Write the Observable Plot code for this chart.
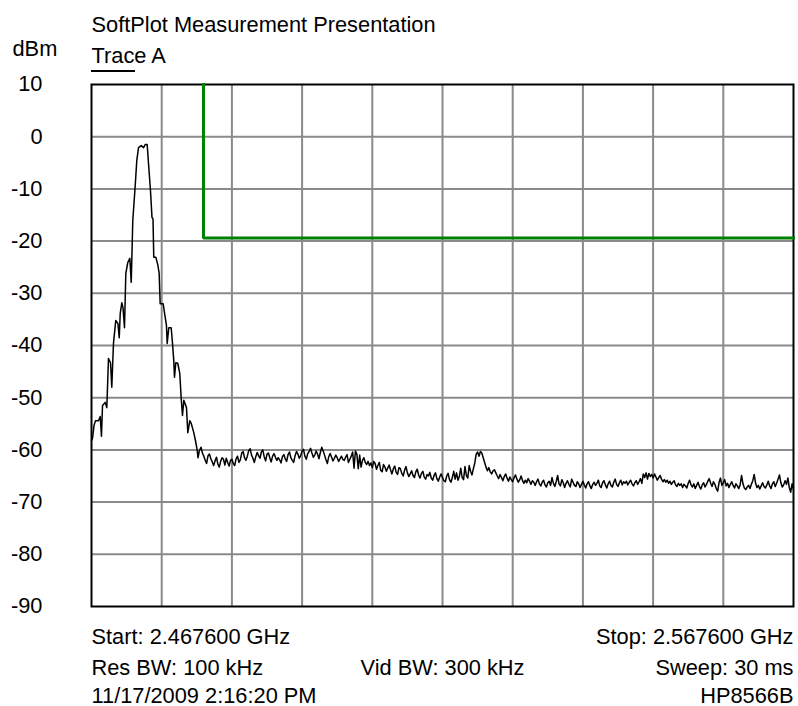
<!DOCTYPE html>
<html>
<head>
<meta charset="utf-8">
<script src="https://cdn.jsdelivr.net/npm/d3@7"></script>
<script src="https://cdn.jsdelivr.net/npm/@observablehq/plot@0.6"></script>
<style>
  html, body { margin: 0; padding: 0; background: #fff; }
  #chart { width: 798px; height: 706px; }
</style>
</head>
<body>
<div id="chart"></div>
<script>
// ---- data ----
const titleText = "SoftPlot Measurement Presentation";
const traceName = "Trace A";
const yUnit = "dBm";
const spanMHz = 100;
const yTicks = [10, 0, -10, -20, -30, -40, -50, -60, -70, -80, -90];
const xGridMHz = [10, 20, 30, 40, 50, 60, 70, 80, 90];

// trace near the carrier (MHz offset from start, dBm)
const peakMHz = [0.0, 0.14, 0.36, 0.57, 1.0, 1.24, 1.42, 1.57, 1.95, 2.18, 2.42, 2.71, 2.89, 3.13, 3.46, 3.77, 3.95, 4.09, 4.32, 4.49, 4.70, 4.89, 5.17, 5.46, 5.66, 5.88, 6.23, 6.45, 6.70, 7.08, 7.41, 7.65, 7.93, 8.12, 8.40, 8.62, 8.76, 8.87, 9.16, 9.44, 9.64, 9.78, 10.21, 10.44, 10.68, 10.78, 11.01, 11.35, 11.54, 11.72, 11.82, 12.01, 12.29, 12.58, 12.78, 12.96, 13.15, 13.53, 13.72, 14.00, 14.20, 14.57, 14.81, 15.06, 15.17, 15.38, 15.60, 15.80];
const peakDbm = [-58.2, -57.8, -55.3, -54.4, -54.4, -53.6, -57.4, -51.5, -50.9, -51.9, -42.5, -43.3, -48.0, -39.6, -35.2, -35.8, -38.5, -33.9, -31.8, -32.8, -36.6, -26.2, -24.1, -23.3, -27.9, -16.1, -9.3, -4.6, -2.1, -1.7, -2.1, -1.5, -1.5, -5.1, -10.3, -15.5, -15.7, -23.1, -23.1, -24.5, -26.2, -32.0, -32.0, -34.1, -36.2, -39.6, -36.6, -36.6, -39.6, -42.9, -46.1, -43.3, -43.4, -45.4, -50.2, -53.4, -50.5, -51.9, -56.7, -54.4, -54.9, -56.7, -58.2, -60.1, -61.5, -60.1, -59.5, -60.6];

// noise floor, sweep points from 16.0 MHz every 0.2 MHz
const noiseStartMHz = 16.0;
const noiseStepMHz = 0.2;
const noiseDbm = [
  -61.2, -62.0, -62.6, -61.1, -60.8, -61.7, -62.3, -63.0, -62.1, -61.4, -62.7, -63.3, -62.2, -61.5, -61.8, -62.9, -61.6, -62.4, -63.1, -62.0,
  -61.8, -62.6, -63.0, -61.7, -61.2, -62.4, -61.9, -60.6, -60.3, -61.5, -62.0, -61.2, -60.1, -59.8, -61.0, -61.6, -62.4, -61.3, -60.5, -61.1,
  -61.6, -60.4, -60.0, -61.3, -62.1, -60.8, -60.6, -61.5, -62.3, -61.2, -60.7, -61.4, -62.0, -61.5, -61.9, -62.5, -61.3, -60.9, -61.7, -62.2,
  -60.9, -60.4, -61.5, -62.0, -62.4, -61.1, -60.3, -60.8, -61.6, -61.1, -60.2, -59.9, -61.2, -61.8, -60.7, -60.3, -59.7, -60.6, -61.4, -61.0,
  -60.2, -60.8, -61.7, -60.5, -59.5, -60.2, -61.0, -61.9, -62.6, -61.3, -60.7, -61.4, -62.1, -61.6, -61.0, -61.5, -62.2, -61.7, -61.2, -61.8,
  -62.0, -61.4, -60.9, -62.4, -61.8, -61.2, -60.4, -63.5, -60.2, -60.8, -63.6, -61.0, -63.3, -62.0, -61.5, -62.4, -62.8, -62.2, -63.0, -62.5,
  -63.4, -62.2, -62.6, -63.7, -63.0, -62.4, -63.9, -64.2, -62.8, -63.3, -64.1, -63.5, -62.9, -63.8, -64.6, -63.6, -63.1, -64.3, -64.7, -63.4,
  -63.6, -64.5, -65.0, -63.9, -63.2, -64.4, -65.1, -64.6, -64.0, -64.9, -65.3, -64.2, -63.7, -64.8, -65.4, -64.5, -64.1, -65.2, -65.6, -64.7,
  -65.0, -64.3, -65.4, -65.8, -64.9, -64.4, -65.5, -66.0, -65.2, -64.6, -65.3, -65.9, -66.1, -65.0, -64.5, -65.7, -66.2, -65.3, -64.1, -65.6,
  -64.4, -65.8, -65.1, -63.5, -65.3, -65.7, -63.2, -64.9, -65.4, -63.0, -64.1, -64.8, -63.6, -62.5, -60.8, -60.4, -61.2, -60.3, -60.6, -61.5,
  -62.4, -63.3, -64.0, -63.4, -64.2, -64.6, -64.0, -63.8, -64.4, -65.0, -65.5, -64.7, -65.3, -65.9, -65.1, -64.6, -65.4, -66.0, -65.2, -65.7,
  -66.1, -65.3, -64.8, -65.6, -66.2, -65.7, -65.0, -65.9, -66.4, -65.8, -66.3, -65.5, -66.0, -66.6, -65.9, -66.2, -66.8, -66.1, -65.6, -66.5,
  -66.9, -66.2, -65.8, -66.7, -67.1, -66.3, -66.0, -66.8, -65.3, -66.4, -67.0, -66.1, -64.9, -66.5, -66.9, -65.7, -66.3, -67.2, -66.4, -65.9,
  -66.6, -67.1, -65.6, -66.2, -66.8, -67.0, -66.1, -66.5, -67.2, -66.6, -66.0, -66.7, -67.3, -66.5, -66.1, -66.9, -67.4, -66.6, -66.2, -66.8,
  -66.4, -65.8, -66.9, -67.2, -66.3, -65.9, -66.7, -67.3, -66.5, -66.0, -66.8, -67.1, -66.2, -65.6, -66.6, -67.0, -66.3, -65.8, -66.7, -66.1,
  -66.4, -66.0, -66.7, -66.2, -65.8, -66.5, -66.9, -66.3, -65.9, -66.6, -66.1, -65.5, -66.4, -64.6, -65.3, -64.4, -65.6, -64.5, -65.1, -64.7,
  -65.4, -64.6, -65.2, -65.8, -65.3, -64.9, -65.6, -66.1, -65.7, -66.2, -65.8, -66.4, -66.0, -66.6, -66.2, -65.9, -66.7, -67.0, -66.4, -66.8,
  -66.5, -67.2, -66.6, -66.9, -67.3, -66.4, -65.8, -66.7, -67.1, -66.5, -67.4, -66.8, -66.2, -67.0, -67.5, -66.7, -66.3, -67.1, -66.6, -66.0,
  -65.5, -66.4, -67.0, -66.1, -66.6, -67.4, -67.9, -66.2, -65.4, -66.8, -66.3, -65.7, -66.9, -66.4, -67.2, -66.6, -66.1, -66.8, -67.3, -66.5,
  -66.9, -67.4, -66.7, -64.9, -66.5, -67.3, -67.6, -67.1, -66.8, -67.4, -66.6, -65.9, -64.7, -66.4, -67.2, -66.8, -67.5, -66.9, -66.3, -67.0,
  -67.3, -66.7, -66.0, -66.9, -67.4, -66.5, -66.1, -67.0, -66.4, -65.6, -64.8, -66.3, -67.1, -66.7, -65.9, -66.6, -65.4, -67.2, -68.1, -66.5,
  -67.6
];

// limit line
const limitMHz = [15.95, 15.95, 100];
const limitDbm = [10, -19.4, -19.4];

const footerLeft = ["Start: 2.467600 GHz", "Res BW: 100 kHz", "11/17/2009 2:16:20 PM"];
const footerCenter = ["", "Vid BW: 300 kHz", ""];
const footerRight = ["Stop: 2.567600 GHz", "Sweep: 30 ms", "HP8566B"];

// ---- build tables ----
const trace = peakMHz.map((f, i) => ({f, v: peakDbm[i]}))
  .concat(noiseDbm.map((v, i) => ({f: noiseStartMHz + i * noiseStepMHz, v})));
const limit = limitMHz.map((f, i) => ({f, v: limitDbm[i]}));

const FONT = "21.8px";
const footerDy = [37, 68, 96];
const footerMarks = [];
footerDy.forEach((dy, i) => {
  footerMarks.push(Plot.text([footerLeft[i]], {frameAnchor: "bottom-left", textAnchor: "start", lineAnchor: "bottom", dy, fill: "black"}));
  if (footerCenter[i]) footerMarks.push(Plot.text([footerCenter[i]], {frameAnchor: "bottom", textAnchor: "middle", lineAnchor: "bottom", dy, fill: "black"}));
  footerMarks.push(Plot.text([footerRight[i]], {frameAnchor: "bottom-right", textAnchor: "end", lineAnchor: "bottom", dy, fill: "black"}));
});

const chart = Plot.plot({
  width: 798,
  height: 706,
  marginTop: 84,
  marginBottom: 100,
  marginLeft: 91,
  marginRight: 5,
  style: {fontFamily: "'Liberation Sans', Arial, sans-serif", fontSize: FONT, color: "black", background: "white", overflow: "visible"},
  x: {domain: [0, spanMHz], axis: null},
  y: {domain: [-90, 10], axis: null},
  marks: [
    Plot.gridX(xGridMHz, {stroke: "#8a8a8a", strokeOpacity: 1, strokeWidth: 2}),
    Plot.gridY(yTicks.filter(t => t > -90 && t < 10), {stroke: "#8a8a8a", strokeOpacity: 1, strokeWidth: 2}),
    Plot.axisY(yTicks, {tickSize: 0, tickPadding: 49, tickFormat: d => String(d), label: null, fill: "black"}),
    Plot.line(trace, {x: "f", y: "v", stroke: "black", strokeWidth: 1.5, curve: "linear"}),
    Plot.frame({stroke: "black", strokeWidth: 2}),
    Plot.line(limit, {x: "f", y: "v", stroke: "#008000", strokeWidth: 3, strokeLinecap: "square", strokeLinejoin: "miter", clip: false}),
    Plot.text([titleText], {frameAnchor: "top-left", textAnchor: "start", lineAnchor: "bottom", dy: -53, fill: "black"}),
    Plot.text([traceName], {frameAnchor: "top-left", textAnchor: "start", lineAnchor: "bottom", dy: -22, fill: "black"}),
    Plot.text([yUnit], {frameAnchor: "top-left", textAnchor: "start", lineAnchor: "bottom", dx: -79, dy: -29, fill: "black"}),
    ...footerMarks
  ]
});

// legend swatch under the trace name
d3.select(chart).append("line")
  .attr("x1", 91).attr("x2", 135).attr("y1", 71).attr("y2", 71)
  .attr("stroke", "black").attr("stroke-width", 2);

document.getElementById("chart").appendChild(chart);
</script>
</body>
</html>
